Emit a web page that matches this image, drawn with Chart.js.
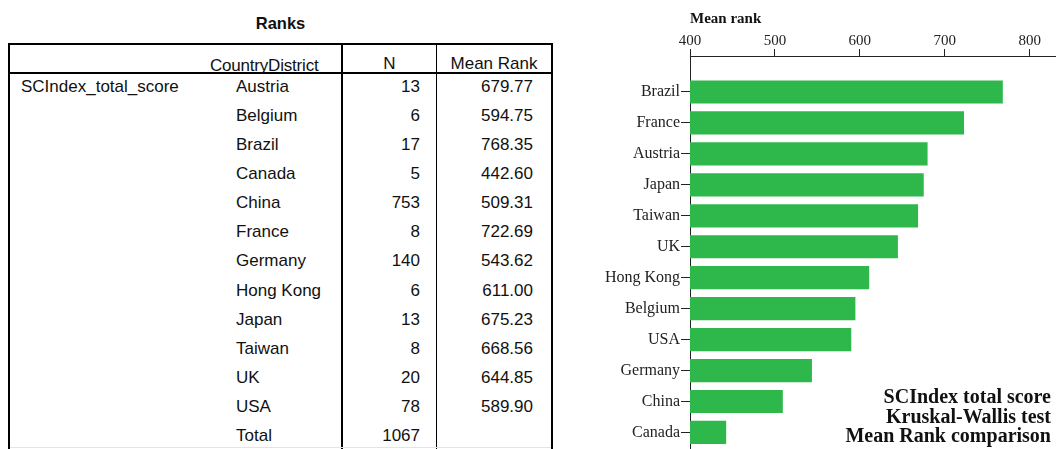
<!DOCTYPE html>
<html>
<head>
<meta charset="utf-8">
<script src="https://cdn.jsdelivr.net/npm/chart.js@4.4.1/dist/chart.umd.min.js"></script>
<style>
  body { margin: 0; background: #fff; width: 1056px; height: 449px; overflow: hidden; position: relative;
         font-family: "Liberation Sans", Arial, sans-serif; color: #111; }
  .t { position: absolute; font-size: 17px; line-height: 20px; white-space: nowrap; }
  .ln { position: absolute; background: #000; }
  #title { position: absolute; left: 8px; width: 545px; top: 13px; text-align: center;
           font: bold 16.5px "Liberation Sans", Arial, sans-serif; line-height: 20px; }
  #rankChart { position: absolute; left: 600px; top: 0; }
  #note { position: absolute; right: 5px; top: 387px; text-align: right; white-space: nowrap;
          font: bold 20px "Liberation Serif", "Times New Roman", serif; line-height: 19.5px; }
</style>
</head>
<body>
<div id="title">Ranks</div>
<div id="table"></div>
<canvas id="rankChart" width="456" height="449"></canvas>
<div id="note">SCIndex total score<br>Kruskal-Wallis test<br>Mean Rank comparison</div>

<script>
// table data (SPSS Ranks output)
const categories = ['Austria', 'Belgium', 'Brazil', 'Canada', 'China', 'France', 'Germany', 'Hong Kong', 'Japan', 'Taiwan', 'UK', 'USA'];
const counts = [13, 6, 17, 5, 753, 8, 140, 6, 13, 8, 20, 78];
const meanRanks = [679.77, 594.75, 768.35, 442.60, 509.31, 722.69, 543.62, 611.00, 675.23, 668.56, 644.85, 589.90];
const totalN = 1067;
const rankTicks = [400, 500, 600, 700, 800];

const serif = '"Liberation Serif", "Times New Roman", serif';
const table = document.querySelector('#table');

const addLine = (left, top, width, height, color) => {
  let el = document.createElement('div');
  el.className = 'ln';
  el.style.cssText = `left:${left}px;top:${top}px;width:${width}px;height:${height}px;` + (color ? `background:${color};` : '');
  table.append(el);
};

const addText = (text, css) => {
  let el = document.createElement('div');
  el.className = 't';
  el.textContent = text;
  el.style.cssText = css;
  table.append(el);
};

// grid lines
addLine(8, 43, 545, 2);
addLine(8, 72, 545, 2);
addLine(8, 43, 2, 406);
addLine(341, 43, 2, 406);
addLine(436, 43, 1, 406);
addLine(551, 43, 2, 406);
addLine(10, 447, 541, 1, '#e4e4e4');

// header
addText('CountryDistrict', 'left:210px;top:56px;letter-spacing:-0.2px;');
addText('N', 'left:343px;width:93px;text-align:center;top:54px;');
addText('Mean Rank', 'left:437px;width:114px;text-align:center;top:54px;');
addText('SCIndex_total_score', 'left:21px;top:77px;');

const rowTop = (i) => 77 + i * 29.08;
categories.forEach((name, i) => {
  addText(name, `left:236px;top:${rowTop(i)}px;`);
  addText(String(counts[i]), `right:636px;top:${rowTop(i)}px;`);
  addText(meanRanks[i].toFixed(2), `right:523px;top:${rowTop(i)}px;`);
});
addText('Total', `left:236px;top:${rowTop(categories.length)}px;`);
addText(String(totalN), `right:636px;top:${rowTop(categories.length)}px;`);

// chart: countries sorted by mean rank, highest first
const order = categories.map((c, i) => i).sort((a, b) => meanRanks[b] - meanRanks[a]);
const barLabels = order.map((i) => categories[i]);
const barValues = order.map((i) => meanRanks[i]);

const renderChart = () => {
  new Chart(document.querySelector('#rankChart'), {
    type: 'bar',
    data: {
      datasets: [
        {
          data: barValues.map((v, i) => ({ x: v, y: i })),
          backgroundColor: '#2eb84b',
          borderWidth: 0,
          barPercentage: 0.75,
          categoryPercentage: 1,
        },
      ],
    },
    options: {
      indexAxis: 'y',
      responsive: false,
      animation: false,
      layout: { padding: 0 },
      plugins: { legend: { display: false }, tooltip: { enabled: false } },
      scales: {
        x: {
          type: 'linear',
          position: 'top',
          min: 400,
          max: 831,
          afterBuildTicks: (s) => { s.ticks = rankTicks.map((v) => ({ value: v })); },
          afterFit: (s) => { s.height = 56; s.paddingLeft = 0; s.paddingRight = 0; },
          grid: { drawOnChartArea: false, tickLength: 7, color: '#222' },
          border: { color: '#222', width: 1 },
          ticks: { color: '#222', padding: 0, font: { family: serif, size: 15, lineHeight: 1 } },
          title: {
            display: true,
            text: 'Mean rank',
            align: 'start',
            color: '#111',
            padding: { top: 10, bottom: 0 },
            font: { family: serif, size: 15, weight: 'bold', lineHeight: 1.2 },
          },
        },
        y: {
          type: 'linear',
          reverse: true,
          offset: false,
          min: -1.163,
          max: 11.535,
          afterBuildTicks: (s) => { s.ticks = barLabels.map((c, i) => ({ value: i })); },
          afterFit: (s) => { s.width = 90; s.paddingTop = 0; s.paddingBottom = 0; },
          grid: { drawOnChartArea: false, offset: false, tickLength: 9, color: '#222' },
          border: { color: '#222', width: 1 },
          ticks: {
            autoSkip: false,
            color: '#222',
            padding: 1,
            font: { family: serif, size: 16 },
            callback: (v) => barLabels[v],
          },
        },
      },
    },
  });
};

renderChart();
</script>
</body>
</html>
